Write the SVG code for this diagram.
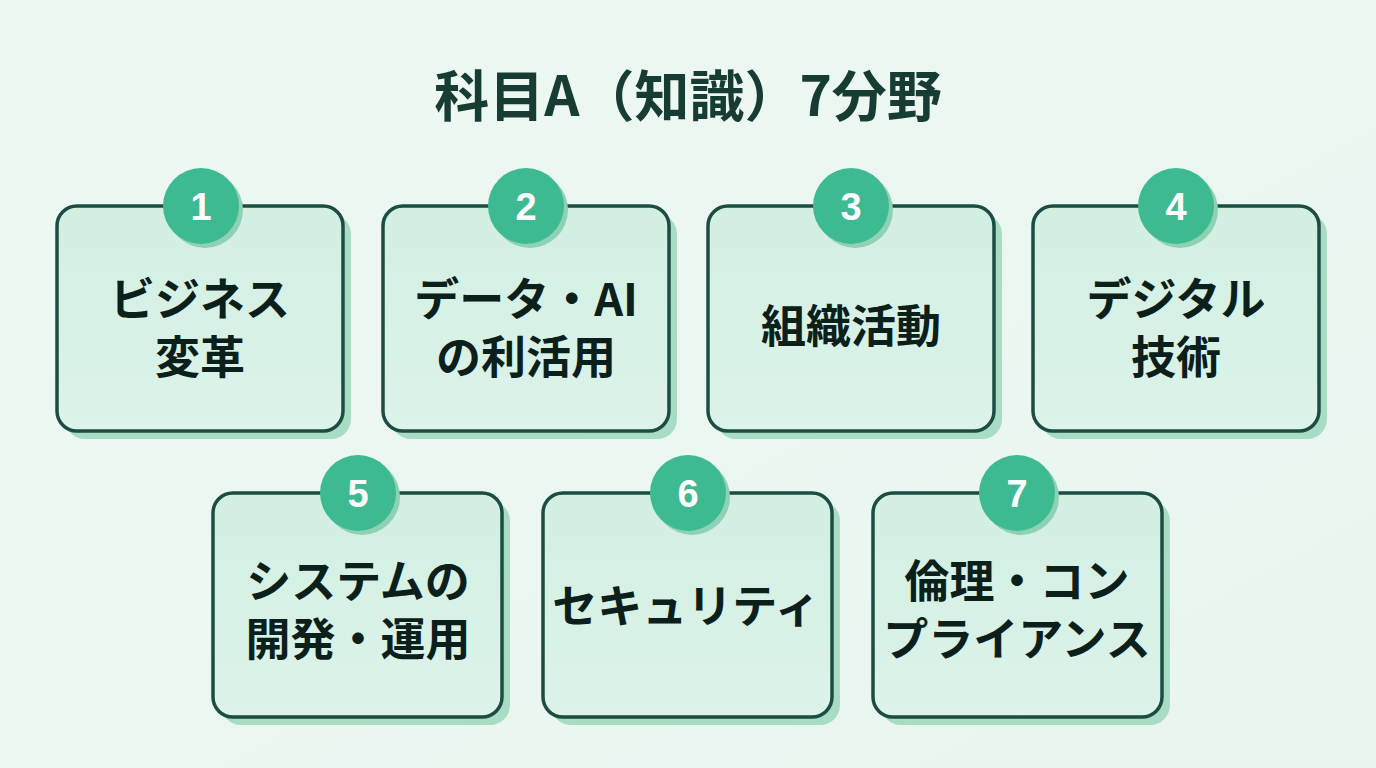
<svg xmlns="http://www.w3.org/2000/svg" width="1376" height="768" viewBox="0 0 1376 768">
<defs>
<linearGradient id="bg" x1="0" y1="0" x2="1" y2="1"><stop offset="0" stop-color="#eef8f3"/><stop offset="1" stop-color="#e8f5ef"/></linearGradient>
<linearGradient id="bx" x1="0" y1="0" x2="0" y2="1"><stop offset="0" stop-color="#d2efe2"/><stop offset="1" stop-color="#dcf3e9"/></linearGradient>
<style>
.sh{fill:#a9dcc4}
.box{fill:url(#bx);stroke:#1b4d42;stroke-width:3.5}
.csh{fill:#8fd1b5}
.c{fill:#3dba92}
.n{font-family:"Liberation Sans","Noto Sans",sans-serif;font-weight:bold;font-size:38px;fill:#ffffff;text-anchor:middle}
.t{font-family:"Noto Sans CJK JP","Noto Sans",sans-serif;font-weight:bold;font-size:45px;fill:#0c201b;text-anchor:middle}
.title{font-family:"Noto Sans CJK JP","Noto Sans",sans-serif;font-weight:bold;font-size:55px;fill:#163c33;text-anchor:middle}
</style>
</defs>
<rect width="1376" height="768" fill="url(#bg)"/>
<text class="title" x="688" y="116">科目A（知識）7分野</text>
<g id="connectors"/>
<g id="n1">
<rect class="sh" x="65" y="214" width="286" height="225" rx="20"/>
<rect class="box" x="57" y="206" width="286" height="225" rx="20"/>
<circle class="csh" cx="205" cy="210" r="38"/>
<circle class="c" cx="201" cy="206" r="38"/>
<text class="n" x="201" y="220">1</text>
<text class="t" x="200" y="316">ビジネス</text>
<text class="t" x="200" y="374">変革</text>
</g>
<g id="n2">
<rect class="sh" x="391" y="214" width="286" height="225" rx="20"/>
<rect class="box" x="383" y="206" width="286" height="225" rx="20"/>
<circle class="csh" cx="530" cy="210" r="38"/>
<circle class="c" cx="526" cy="206" r="38"/>
<text class="n" x="526" y="220">2</text>
<text class="t" x="526" y="316">データ・AI</text>
<text class="t" x="526" y="374">の利活用</text>
</g>
<g id="n3">
<rect class="sh" x="716" y="214" width="286" height="225" rx="20"/>
<rect class="box" x="708" y="206" width="286" height="225" rx="20"/>
<circle class="csh" cx="855" cy="210" r="38"/>
<circle class="c" cx="851" cy="206" r="38"/>
<text class="n" x="851" y="220">3</text>
<text class="t" x="851" y="343">組織活動</text>
</g>
<g id="n4">
<rect class="sh" x="1041" y="214" width="286" height="225" rx="20"/>
<rect class="box" x="1033" y="206" width="286" height="225" rx="20"/>
<circle class="csh" cx="1180" cy="210" r="38"/>
<circle class="c" cx="1176" cy="206" r="38"/>
<text class="n" x="1176" y="220">4</text>
<text class="t" x="1176" y="316">デジタル</text>
<text class="t" x="1176" y="374">技術</text>
</g>
<g id="n5">
<rect class="sh" x="221" y="501" width="289" height="224" rx="20"/>
<rect class="box" x="213" y="493" width="289" height="224" rx="20"/>
<circle class="csh" cx="362" cy="497" r="38"/>
<circle class="c" cx="358" cy="493" r="38"/>
<text class="n" x="358" y="507">5</text>
<text class="t" x="358" y="598">システムの</text>
<text class="t" x="358" y="656">開発・運用</text>
</g>
<g id="n6">
<rect class="sh" x="551" y="501" width="289" height="224" rx="20"/>
<rect class="box" x="543" y="493" width="289" height="224" rx="20"/>
<circle class="csh" cx="692" cy="497" r="38"/>
<circle class="c" cx="688" cy="493" r="38"/>
<text class="n" x="688" y="507">6</text>
<text class="t" x="686" y="623">セキュリティ</text>
</g>
<g id="n7">
<rect class="sh" x="881" y="501" width="289" height="224" rx="20"/>
<rect class="box" x="873" y="493" width="289" height="224" rx="20"/>
<circle class="csh" cx="1021" cy="497" r="38"/>
<circle class="c" cx="1017" cy="493" r="38"/>
<text class="n" x="1017" y="507">7</text>
<text class="t" x="1017" y="598">倫理・コン</text>
<text class="t" x="1017" y="656">プライアンス</text>
</g>
</svg>
